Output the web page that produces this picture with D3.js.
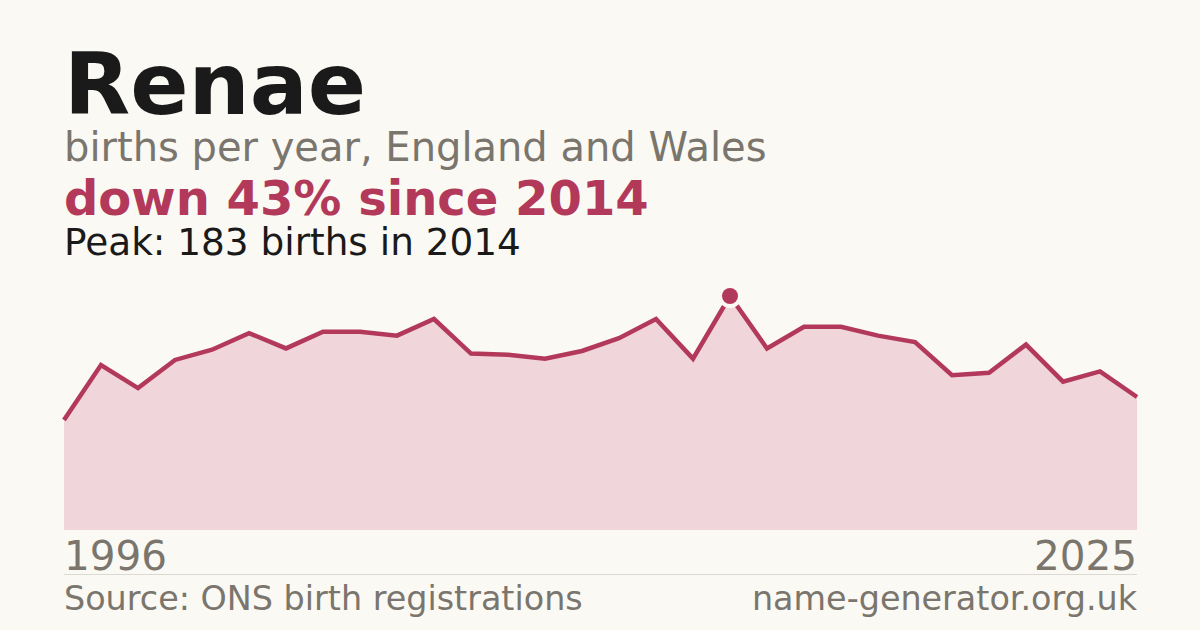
<!DOCTYPE html>
<html>
<head>
<meta charset="utf-8">
<script src="https://cdn.jsdelivr.net/npm/d3@7"></script>
<style>
  html, body { margin: 0; padding: 0; background: #faf9f4; }
  svg { display: block; font-family: "DejaVu Sans", sans-serif; }
</style>
</head>
<body>
<svg id="chart" width="1200" height="630"></svg>
<script>
// Births per year for the name, 1996–2025
const years = d3.range(1996, 2026);
const births = [
  86, 129, 111, 133, 141, 154, 142, 155, 155, 152,
  165, 138, 137, 134, 140, 150, 165, 134, 183, 142,
  159, 159, 152, 147, 121, 123, 145, 116, 124, 104
];
const yearLabels = ["1996", "2025"];

const W = 1200, H = 630;
const plotLeft = 64, plotRight = 1137, plotBase = 530, plotTop = 296;
const lineColor = "#b3395a";
const grey = "#7a756d";
const bg = "#faf9f4";

const svg = d3.select("#chart");
svg.append("rect").attr("width", W).attr("height", H).attr("fill", bg);

const data = years.map((yr, i) => ({ year: yr, v: births[i] }));
const peak = data.reduce((a, b) => (b.v > a.v ? b : a));
const last = data[data.length - 1];
const drop = Math.round((1 - last.v / peak.v) * 100);

const x = d3.scaleLinear().domain(d3.extent(years)).range([plotLeft, plotRight]);
const y = d3.scaleLinear().domain([0, peak.v]).range([plotBase, plotTop]);

// Headings
svg.append("text").attr("x", 64).attr("y", 114)
  .attr("font-size", 86).attr("font-weight", "bold").attr("fill", "#1a1a1a")
  .text("Renae");
svg.append("text").attr("x", 64).attr("y", 161)
  .attr("font-size", 40).attr("fill", grey)
  .text("births per year, England and Wales");
svg.append("text").attr("x", 64).attr("y", 215)
  .attr("font-size", 48).attr("font-weight", "bold").attr("fill", lineColor)
  .text(`down ${drop}% since ${peak.year}`);
svg.append("text").attr("x", 64).attr("y", 255)
  .attr("font-size", 37.4).attr("fill", "#1a1a1a")
  .text(`Peak: ${peak.v} births in ${peak.year}`);

// Area + line
const area = d3.area().x(d => x(d.year)).y0(plotBase).y1(d => y(d.v));
const line = d3.line().x(d => x(d.year)).y(d => y(d.v));

svg.append("path").datum(data)
  .attr("d", area)
  .attr("fill", "#f0d5da");
svg.append("path").datum(data)
  .attr("d", line)
  .attr("fill", "none")
  .attr("stroke", lineColor)
  .attr("stroke-width", 4.5)
  .attr("stroke-linejoin", "miter");

// Peak marker with a halo of the background colour
svg.append("circle")
  .attr("cx", x(peak.year)).attr("cy", y(peak.v))
  .attr("r", 12)
  .attr("fill", bg);
svg.append("circle")
  .attr("cx", x(peak.year)).attr("cy", y(peak.v))
  .attr("r", 8)
  .attr("fill", lineColor);

// Year ends
svg.append("text").attr("x", plotLeft).attr("y", 570)
  .attr("font-size", 40.5).attr("fill", grey)
  .text(yearLabels[0]);
svg.append("text").attr("x", plotRight).attr("y", 570)
  .attr("text-anchor", "end")
  .attr("font-size", 40.5).attr("fill", grey)
  .text(yearLabels[1]);

// Divider and footer
svg.append("line")
  .attr("x1", plotLeft).attr("x2", plotRight)
  .attr("y1", 574.5).attr("y2", 574.5)
  .attr("stroke", "#dcd9d2").attr("stroke-width", 1);
svg.append("text").attr("x", plotLeft).attr("y", 610)
  .attr("font-size", 33.4).attr("fill", grey)
  .text("Source: ONS birth registrations");
svg.append("text").attr("x", plotRight).attr("y", 610)
  .attr("text-anchor", "end")
  .attr("font-size", 33.4).attr("fill", grey)
  .text("name-generator.org.uk");
</script>
</body>
</html>
